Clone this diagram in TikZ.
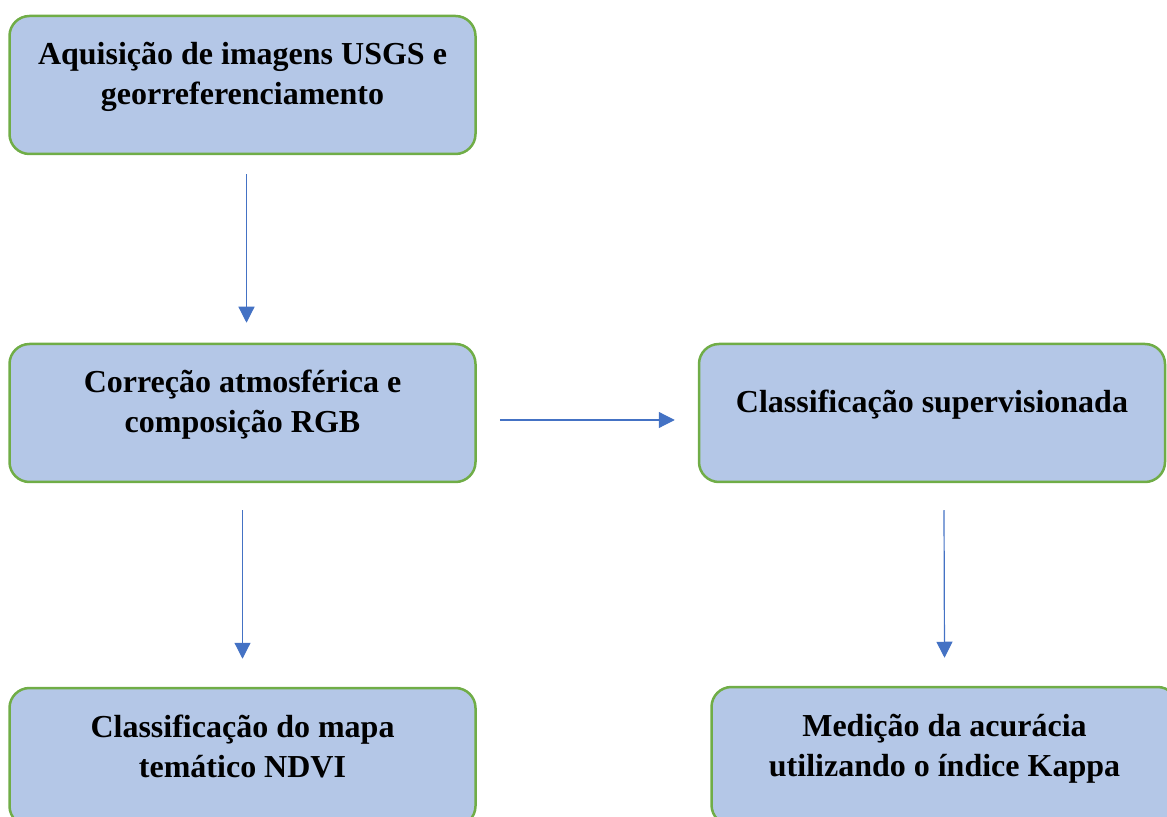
\documentclass[tikz,border=0pt]{standalone}
\usepackage{fontspec}
\setmainfont{Liberation Serif}
\usepackage{xcolor}
\usepackage{tikz}
\usetikzlibrary{arrows.meta}
\definecolor{boxblue}{HTML}{B4C7E7}
\definecolor{boxgreen}{HTML}{70AD47}
\definecolor{arrowblue}{HTML}{4472C4}
\begin{document}
\begin{tikzpicture}[x=0.5pt, y=-0.5pt,
  box/.style={draw=boxgreen, fill=boxblue, line width=1.25pt, rounded corners=10pt, minimum width=233pt, minimum height=69pt, align=center, font=\bfseries\fontsize{16}{20}\selectfont, text height=10pt, text depth=10pt},
  twoline/.style={text height=30pt},
  flow/.style={draw=arrowblue, line width=0.6pt, -{Triangle[width=8pt, length=8pt]}}]
  \clip (0,0) rectangle (1167,817);
  \node[box, twoline] (aq) at (242.5,85) {Aquisição de imagens USGS e\\georreferenciamento};
  \node[box, twoline] (cor) at (242.5,413) {Correção atmosférica e\\composição RGB};
  \node[box] (cls) at (932,413) {Classificação supervisionada};
  \node[box, twoline] (ndvi) at (242.5,757) {Classificação do mapa\\temático NDVI};
  \node[box, twoline] (kap) at (944.5,756) {Medição da acurácia\\utilizando o índice Kappa};
  \draw[flow] ([xshift=2pt, yshift=-9.5pt]aq.south) -- ([xshift=2pt, yshift=10pt]cor.north);
  \draw[flow] ([yshift=-3.5pt, xshift=11.5pt]cor.east) -- ([yshift=-3.5pt, xshift=-11.5pt]cls.west);
  \draw[flow] ([yshift=-13.5pt]cor.south) -- ([yshift=14pt]ndvi.north);
  \draw[flow] ([xshift=6pt, yshift=-13.5pt]cls.south) -- ([yshift=14pt]kap.north);
\end{tikzpicture}
\end{document}
